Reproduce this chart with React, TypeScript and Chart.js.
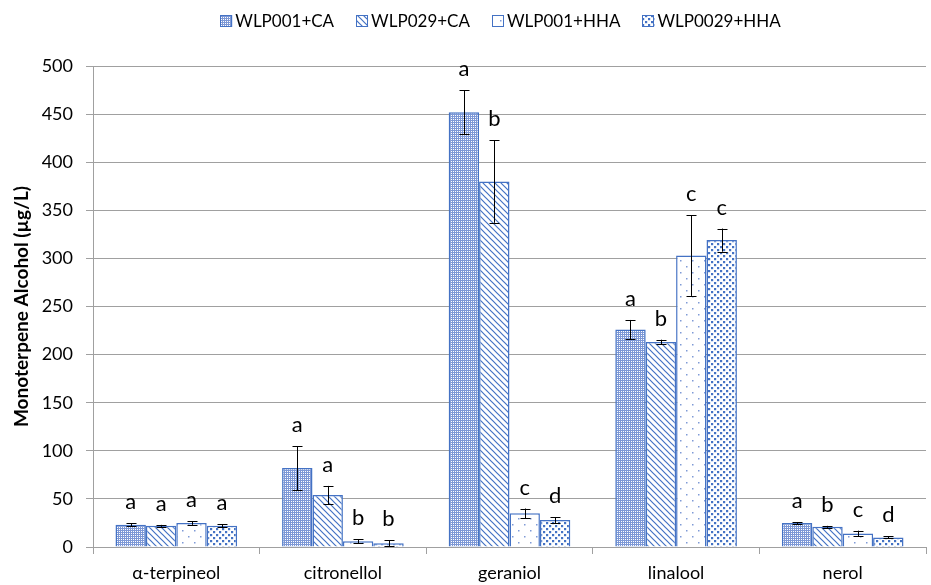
import React, { useEffect, useRef } from 'react';
import { Chart, registerables } from 'chart.js';

Chart.register(...registerables);

const categories = ['α-terpineol', 'citronellol', 'geraniol', 'linalool', 'nerol'];
const seriesNames = ['WLP001+CA', 'WLP029+CA', 'WLP001+HHA', 'WLP0029+HHA'];

const wlp001CA = [23, 82, 452, 226, 25];
const wlp029CA = [22, 54, 380, 213, 21];
const wlp001HHA = [25, 6, 35, 303, 14];
const wlp0029HHA = [22, 4, 28, 319, 10];

const err001CA = [1.5, 23, 23, 10, 1];
const err029CA = [1, 9.5, 43, 2.5, 1];
const err001HHA = [2, 2, 5, 42, 3];
const err0029HHA = [1.5, 3, 3, 12, 1];

const let001CA = ['a', 'a', 'a', 'a', 'a'];
const let029CA = ['a', 'a', 'b', 'b', 'b'];
const let001HHA = ['a', 'b', 'c', 'c', 'c'];
const let0029HHA = ['a', 'b', 'd', 'c', 'd'];

const yTicks = [0, 50, 100, 150, 200, 250, 300, 350, 400, 450, 500];

const BLUE = '#4472C4';
const FONT = 'Lato, "Open Sans", sans-serif';

function makePattern(kind: number): CanvasPattern | string {
  const c = document.createElement('canvas');
  const ctx = c.getContext('2d');
  if (!ctx) return BLUE;
  if (kind === 0) {
    c.width = 2; c.height = 2;
    ctx.fillStyle = '#ffffff';
    ctx.fillRect(0, 0, 2, 2);
    ctx.fillStyle = '#7d98d6';
    ctx.fillRect(0, 0, 2, 1);
    ctx.fillRect(0, 0, 1, 2);
  } else if (kind === 1) {
    c.width = 6; c.height = 6;
    ctx.fillStyle = '#ffffff';
    ctx.fillRect(0, 0, 6, 6);
    ctx.strokeStyle = BLUE;
    ctx.lineWidth = 1.2;
    ctx.beginPath();
    ctx.moveTo(-1, -1); ctx.lineTo(7, 7);
    ctx.moveTo(-4, 2); ctx.lineTo(4, 10);
    ctx.moveTo(2, -4); ctx.lineTo(10, 4);
    ctx.stroke();
  } else if (kind === 2) {
    c.width = 12; c.height = 12;
    ctx.fillStyle = '#ffffff';
    ctx.fillRect(0, 0, 12, 12);
    ctx.fillStyle = '#7f9ad6';
    ctx.fillRect(2, 2, 1.5, 1.5);
    ctx.fillRect(8, 8, 1.5, 1.5);
  } else {
    c.width = 6; c.height = 6;
    ctx.fillStyle = '#ffffff';
    ctx.fillRect(0, 0, 6, 6);
    ctx.fillStyle = BLUE;
    ctx.fillRect(0, 0, 2.2, 2.2);
    ctx.fillRect(3, 3, 2.2, 2.2);
  }
  return ctx.createPattern(c, 'repeat') || BLUE;
}

export default function App() {
  const ref = useRef<HTMLCanvasElement | null>(null);

  useEffect(() => {
    document.body.style.margin = '0';
    const canvas = ref.current;
    if (!canvas) return;
    const values = [wlp001CA, wlp029CA, wlp001HHA, wlp0029HHA];
    const errors = [err001CA, err029CA, err001HHA, err0029HHA];
    const letters = [let001CA, let029CA, let001HHA, let0029HHA];
    const patterns = values.map((_, k) => makePattern(k));

    const annot = {
      id: 'annot',
      afterDatasetsDraw(chart: any) {
        const ctx = chart.ctx;
        const ys = chart.scales.y;
        ctx.save();
        for (let d = 0; d < values.length; d++) {
          const meta = chart.getDatasetMeta(d);
          meta.data.forEach((el: any, i: number) => {
            const v = values[d][i];
            const e = errors[d][i];
            const x = Math.round(el.x) + 0.5;
            const yt = ys.getPixelForValue(v + e);
            const yb = ys.getPixelForValue(Math.max(0, v - e));
            ctx.strokeStyle = '#000';
            ctx.lineWidth = 1;
            ctx.beginPath();
            ctx.moveTo(x, yt); ctx.lineTo(x, yb);
            ctx.moveTo(x - 5, Math.round(yt) + 0.5); ctx.lineTo(x + 5, Math.round(yt) + 0.5);
            ctx.moveTo(x - 5, Math.round(yb) + 0.5); ctx.lineTo(x + 5, Math.round(yb) + 0.5);
            ctx.stroke();
            ctx.fillStyle = '#000';
            ctx.font = '22px ' + FONT;
            ctx.textAlign = 'center';
            ctx.textBaseline = 'alphabetic';
            ctx.fillText(letters[d][i], el.x, yt - 14);
          });
        }
        ctx.restore();
      },
      afterDraw(chart: any) {
        const ctx = chart.ctx;
        ctx.save();
        ctx.font = '17px ' + FONT;
        const box = 12, gapText = 3, gapItem = 22;
        const widths = seriesNames.map((s) => ctx.measureText(s).width);
        const total = widths.reduce((a, w) => a + box + gapText + w, 0) + gapItem * (seriesNames.length - 1);
        let x = chart.width / 2 - total / 2 + 35;
        const cy = 21;
        seriesNames.forEach((s, k) => {
          ctx.fillStyle = patterns[k];
          ctx.fillRect(x, cy - box / 2, box, box);
          ctx.strokeStyle = BLUE;
          ctx.lineWidth = 1;
          ctx.strokeRect(Math.round(x) + 0.5, Math.round(cy - box / 2) + 0.5, box - 1, box - 1);
          ctx.fillStyle = '#000';
          ctx.textAlign = 'left';
          ctx.textBaseline = 'middle';
          ctx.fillText(s, x + box + gapText, cy + 1);
          x += box + gapText + widths[k] + gapItem;
        });
        ctx.restore();
      },
    };

    const chart = new Chart(canvas, {
      type: 'bar',
      data: {
        labels: categories,
        datasets: values.map((vals, k) => ({
          label: seriesNames[k],
          data: vals,
          backgroundColor: patterns[k] as any,
          borderColor: BLUE,
          borderWidth: 1.5,
          categoryPercentage: 0.73,
          barPercentage: 1.0,
        })),
      },
      options: {
        animation: false,
        responsive: false,
        maintainAspectRatio: false,
        layout: { padding: { left: 0, right: 5, top: 66, bottom: 0 } },
        plugins: {
          legend: { display: false },
          tooltip: { enabled: false },
        },
        scales: {
          x: {
            grid: {
              display: true,
              drawOnChartArea: false,
              drawTicks: true,
              tickLength: 7,
              color: '#a0a0a0',
              offset: true,
            },
            border: { color: '#a0a0a0' },
            ticks: { color: '#000', font: { family: FONT, size: 18 }, padding: 8 },
            afterFit(scale: any) { scale.height = 38; },
          },
          y: {
            min: 0,
            max: 500,
            afterBuildTicks(scale: any) { scale.ticks = yTicks.map((v) => ({ value: v })); },
            grid: { color: '#a0a0a0', tickLength: 7 },
            border: { color: '#a0a0a0' },
            ticks: { color: '#000', font: { family: FONT, size: 18 }, padding: 13 },
            title: {
              display: true,
              text: 'Monoterpene Alcohol (µg/L)',
              color: '#000',
              font: { family: FONT, size: 19, weight: 'bold' },
              padding: { top: 10, bottom: 0 },
            },
            afterFit(scale: any) { scale.width = 93; },
          },
        },
      },
      plugins: [annot],
    } as any);
    return () => chart.destroy();
  }, []);

  return (
    <div style={{ width: 931, height: 585 }}>
      <canvas ref={ref} width={931} height={585} style={{ display: 'block' }} />
    </div>
  );
}
